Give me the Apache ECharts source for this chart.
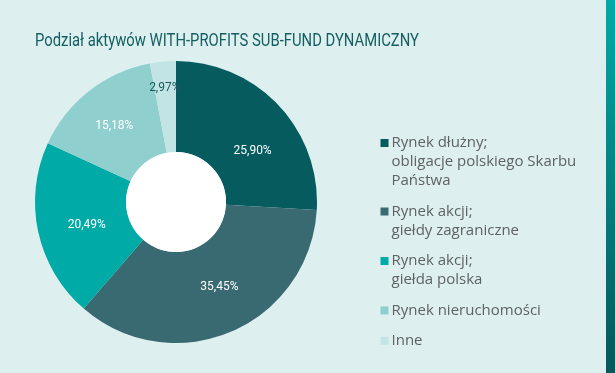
<!DOCTYPE html>
<html>
<head>
<meta charset="utf-8">
<script src="https://cdn.jsdelivr.net/npm/echarts@6/dist/echarts.min.js"></script>
<style>
html,body{margin:0;padding:0;background:#deefef;}
#c{width:615px;height:373px;}
</style>
</head>
<body>
<div id="c"></div>
<script>
const titleText = 'Podział aktywów WITH-PROFITS SUB-FUND DYNAMICZNY';
const categories = [
  'Rynek dłużny;\nobligacje polskiego Skarbu\nPaństwa',
  'Rynek akcji;\ngiełdy zagraniczne',
  'Rynek akcji;\ngiełda polska',
  'Rynek nieruchomości',
  'Inne'
];
const values = [25.90, 35.45, 20.49, 15.18, 2.97];
const colors = ['#055b5e', '#3a6a71', '#00aaa7', '#8fcfcd', '#c3e4e4'];
const labelColors = ['#ffffff', '#ffffff', '#ffffff', '#ffffff', '#1d5a5e'];
const labelOffsets = [[5, 17], [5, -6], [7, 2], [-1, 2], [-2, -16]];

const titleFont = 'Roboto, "Liberation Sans", sans-serif';
const labelFont = 'Roboto, "Liberation Sans", sans-serif';
const legendFont = '"Open Sans", "Noto Sans", sans-serif';

// horizontal compression of the title to mimic the condensed face
const titleFontSize = 18;
const mctx = document.createElement('canvas').getContext('2d');
mctx.font = titleFontSize + 'px ' + titleFont;
const titleScaleX = 384 / mctx.measureText(titleText).width;

const rich = {
  g: { width: 3, height: 8, lineHeight: 19 },
  i: { width: 11, height: 8, lineHeight: 19 },
  t: { fontSize: 15, lineHeight: 19, color: '#5e6263', fontFamily: legendFont }
};
colors.forEach((c, k) => {
  rich['s' + k] = { width: 8, height: 8, lineHeight: 19, backgroundColor: c };
});

const chart = echarts.init(document.getElementById('c'), null, { renderer: 'canvas' });
chart.setOption({
  backgroundColor: '#deefef',
  animation: false,
  legend: {
    orient: 'vertical',
    left: 370.5,
    top: 128.5,
    itemGap: 11.5,
    itemWidth: 0,
    itemHeight: 8,
    icon: 'none',
    selectedMode: false,
    data: categories,
    formatter: function (name) {
      const k = categories.indexOf(name);
      const lines = name.split('\n');
      let s = '{s' + k + '|}{g|}{t|' + lines[0] + '}';
      for (let j = 1; j < lines.length; j++) s += '\n{i|}{t|' + lines[j] + '}';
      return s;
    },
    textStyle: { rich: rich, lineHeight: 19, fontSize: 15 }
  },
  graphic: [
    {
      type: 'text',
      x: 35,
      y: 41.5,
      scaleX: titleScaleX,
      scaleY: 1,
      style: {
        text: titleText,
        fontFamily: titleFont,
        fontSize: titleFontSize,
        fill: '#135f62',
        align: 'left',
        verticalAlign: 'middle'
      },
      silent: true
    },
    {
      type: 'rect',
      right: 0,
      top: 0,
      shape: { width: 9, height: 373 },
      style: {
        fill: new echarts.graphic.LinearGradient(0, 0, 0, 1, [
          { offset: 0, color: '#00aaa6' },
          { offset: 1, color: '#05575a' }
        ])
      },
      silent: true
    },
    {
      type: 'circle',
      shape: { cx: 176, cy: 202, r: 50 },
      style: { fill: '#ffffff' },
      silent: true,
      z: 10
    }
  ],
  series: [{
    type: 'pie',
    center: [176, 202],
    radius: [50, 141],
    startAngle: 90,
    clockwise: true,
    avoidLabelOverlap: false,
    itemStyle: { borderWidth: 0 },
    label: {
      show: true,
      position: 'inside',
      fontFamily: labelFont,
      fontSize: 12,
      color: '#fff',
      formatter: function (p) { return p.value.toFixed(2).replace('.', ',') + '%'; }
    },
    labelLine: { show: false },
    emphasis: { disabled: true },
    data: categories.map((n, k) => ({
      name: n,
      value: values[k],
      itemStyle: { color: colors[k] },
      label: { color: labelColors[k], offset: labelOffsets[k] }
    }))
  }]
});
</script>
</body>
</html>
